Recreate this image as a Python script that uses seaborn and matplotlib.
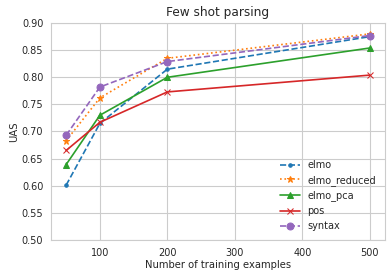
import matplotlib
matplotlib.use("Agg")
import matplotlib.pyplot as plt
import seaborn as sns

# Data
n_examples = [50, 100, 200, 500]
elmo = [0.601, 0.715, 0.815, 0.875]
elmo_reduced = [0.683, 0.762, 0.835, 0.880]
elmo_pca = [0.639, 0.730, 0.800, 0.854]
pos = [0.665, 0.717, 0.773, 0.804]
syntax = [0.693, 0.782, 0.829, 0.877]

series = [
    ("elmo", elmo, ".", "--"),
    ("elmo_reduced", elmo_reduced, "*", ":"),
    ("elmo_pca", elmo_pca, "^", "-"),
    ("pos", pos, "x", "-"),
    ("syntax", syntax, "o", "--"),
]

sns.set_style("whitegrid")
colors = sns.color_palette("tab10", 5)

fig, ax = plt.subplots(figsize=(3.92, 2.78), dpi=100)

for (name, vals, mk, ls), c in zip(series, colors):
    sns.lineplot(x=n_examples, y=vals, ax=ax, label=name, color=c,
                 marker=mk, linestyle=ls, linewidth=1.2, markersize=5,
                 markeredgecolor=c)

ax.set_ylim(0.5, 0.9)
ax.set_yticks([0.50, 0.55, 0.60, 0.65, 0.70, 0.75, 0.80, 0.85, 0.90])
ax.set_xticks([100, 200, 300, 400, 500])
ax.tick_params(labelsize=7, pad=2)
ax.set_xlabel("Number of training examples", fontsize=7.2, labelpad=2)
ax.set_ylabel("UAS", fontsize=7.2, labelpad=2)
ax.set_title("Few shot parsing", fontsize=8.7, pad=5)
ax.legend(loc="lower right", frameon=False, fontsize=7)

fig.subplots_adjust(left=0.13, right=0.982, top=0.917, bottom=0.137)
fig.savefig("out.png", dpi=100)
